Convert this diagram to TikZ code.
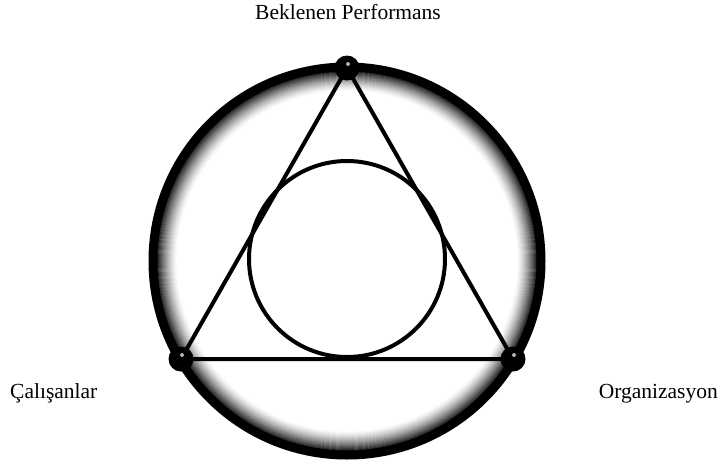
\documentclass[tikz,border=0pt]{standalone}
\usepackage{fontspec}
\setmainfont{Liberation Serif}
\usetikzlibrary{calc}
\begin{document}
\begin{tikzpicture}[x=1pt,y=-1pt,
  lbl/.style={inner sep=0pt,font=\fontsize{21.5}{25}\selectfont},
  edge/.style={line width=4pt,line cap=round},
  ballnode/.style={circle,fill=black,minimum size=25pt,inner sep=0pt}]
\useasboundingbox (0,0) rectangle (721,467);
\coordinate (O) at (347,261);
% shaded ring
\foreach \i in {0,...,40} {
  \pgfmathsetmacro\r{170+\i*0.5}
  \pgfmathsetmacro\c{(\i/40)^1.4*90}
  \draw[line width=0.8pt,black!\c] (O) circle[radius=\r];
}
\draw[line width=9pt] (O) circle[radius=194];
% inner circle
\draw[line width=4pt] (347,259) circle[radius=98];
% triangle vertices
\coordinate (T) at (347,68);
\coordinate (L) at (181,359);
\coordinate (R) at (513,359);
\draw[edge] (T) -- (L) -- (R) -- cycle;
% balls
\foreach \p in {T,L,R} {
  \node[ballnode] (b\p) at (\p) {};
  \fill[white!70!black] ($(\p)+(1,-4)$) circle[radius=2];
}
% labels
\node[lbl,anchor=base] (top) at (348,19) {Beklenen Performans};
\node[lbl,anchor=base west] (left) at (10,398) {Çalışanlar};
\node[lbl,anchor=base east] (right) at (718,398) {Organizasyon};
\end{tikzpicture}
\end{document}
